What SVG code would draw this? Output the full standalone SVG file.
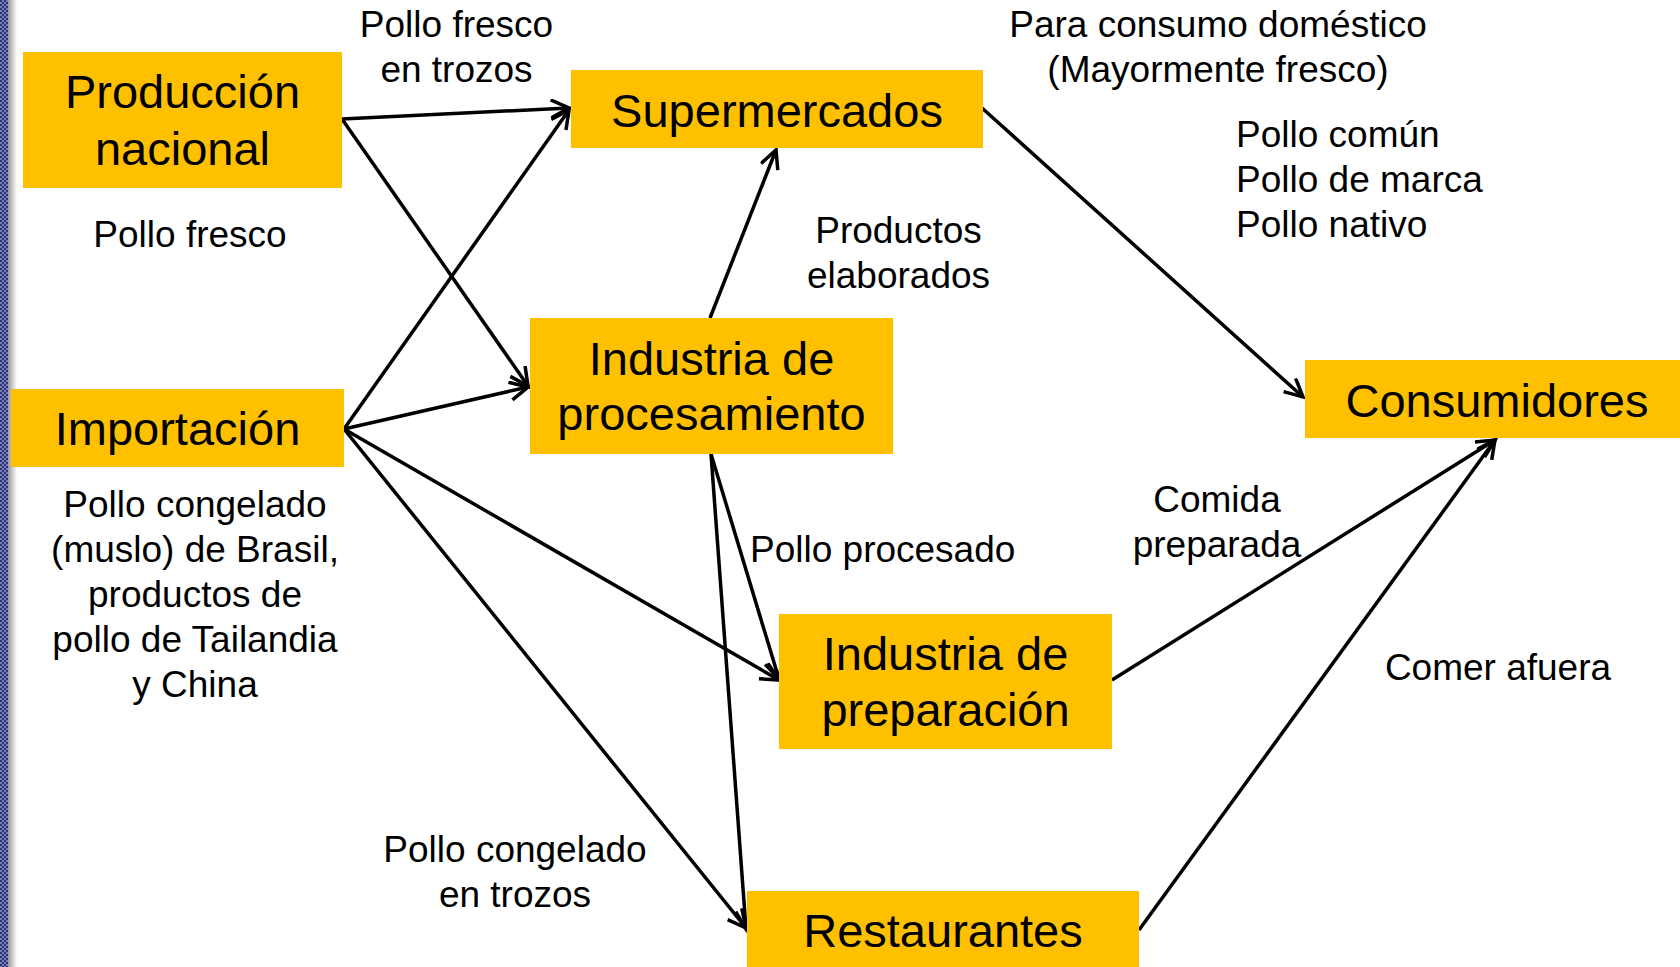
<svg xmlns="http://www.w3.org/2000/svg" width="1680" height="967" viewBox="0 0 1680 967">
  <style>
    .box { fill: #FFC000; }
    .nt { font-family: "Liberation Sans", Arial, sans-serif; font-size: 47px; fill: #000; text-anchor: middle; }
    .lb { font-family: "Liberation Sans", Arial, sans-serif; font-size: 37px; fill: #000; text-anchor: middle; }
    .lbl { font-family: "Liberation Sans", Arial, sans-serif; font-size: 37px; fill: #000; text-anchor: start; }
    .conn line { stroke: #000; stroke-width: 3.5; marker-end: url(#arr); }
  </style>
  <defs>
    <marker id="arr" markerUnits="userSpaceOnUse" markerWidth="26" markerHeight="24" refX="19" refY="10" orient="auto" viewBox="0 0 26 24">
      <path d="M1,1 L19,10 L1,19" fill="none" stroke="#000" stroke-width="3.5" stroke-linejoin="miter"/>
    </marker>
    <pattern id="dots" width="4" height="4" patternUnits="userSpaceOnUse">
      <rect width="4" height="4" fill="#7a7fb8"/>
      <rect width="2" height="2" fill="#2e3478"/>
      <rect x="2" y="2" width="2" height="2" fill="#2e3478"/>
    </pattern>
    <linearGradient id="shade" x1="0" x2="1" y1="0" y2="0">
      <stop offset="0" stop-color="#9a9a9a"/>
      <stop offset="1" stop-color="#ffffff"/>
    </linearGradient>
  </defs>
  <rect width="1680" height="967" fill="#fff"/>
  <rect x="0" y="0" width="8" height="967" fill="url(#dots)"/>
  <rect x="8" y="0" width="9" height="967" fill="url(#shade)"/>

  <g id="connectors" class="conn">
    <line x1="342" y1="119" x2="569" y2="108"/>
    <line x1="342" y1="119" x2="528" y2="386"/>
    <line x1="344" y1="429" x2="569" y2="110"/>
    <line x1="344" y1="429" x2="528" y2="387"/>
    <line x1="344" y1="429" x2="779" y2="680"/>
    <line x1="344" y1="429" x2="746" y2="928"/>
    <line x1="710" y1="318" x2="776" y2="150"/>
    <line x1="711" y1="454" x2="779" y2="679"/>
    <line x1="711" y1="454" x2="746" y2="929"/>
    <line x1="982" y1="108" x2="1303" y2="397"/>
    <line x1="1112" y1="680" x2="1495" y2="440"/>
    <line x1="1139" y1="930" x2="1495" y2="440"/>
  </g>

  <g id="produccion">
    <rect class="box" x="23" y="52" width="319" height="136"/>
    <text class="nt" x="182.5" y="108">Producción</text>
    <text class="nt" x="182.5" y="165">nacional</text>
  </g>
  <g id="importacion">
    <rect class="box" x="11" y="389" width="333" height="78"/>
    <text class="nt" x="177.5" y="445">Importación</text>
  </g>
  <g id="supermercados">
    <rect class="box" x="571" y="70" width="412" height="78"/>
    <text class="nt" x="777" y="127">Supermercados</text>
  </g>
  <g id="procesamiento">
    <rect class="box" x="530" y="318" width="363" height="136"/>
    <text class="nt" x="711.5" y="375">Industria de</text>
    <text class="nt" x="711.5" y="430">procesamiento</text>
  </g>
  <g id="consumidores">
    <rect class="box" x="1305" y="360" width="375" height="78"/>
    <text class="nt" x="1497" y="417">Consumidores</text>
  </g>
  <g id="preparacion">
    <rect class="box" x="779" y="614" width="333" height="135"/>
    <text class="nt" x="945.5" y="670">Industria de</text>
    <text class="nt" x="945.5" y="726">preparación</text>
  </g>
  <g id="restaurantes">
    <rect class="box" x="747" y="891" width="392" height="76"/>
    <text class="nt" x="943" y="947">Restaurantes</text>
  </g>

  <g id="labels">
    <text class="lb" x="456.5" y="37">Pollo fresco</text>
    <text class="lb" x="456.5" y="82">en trozos</text>
    <text class="lb" x="190" y="247">Pollo fresco</text>
    <text class="lb" x="1218" y="37">Para consumo doméstico</text>
    <text class="lb" x="1218" y="82">(Mayormente fresco)</text>
    <text class="lbl" x="1236" y="147">Pollo común</text>
    <text class="lbl" x="1236" y="192">Pollo de marca</text>
    <text class="lbl" x="1236" y="237">Pollo nativo</text>
    <text class="lb" x="898.5" y="243">Productos</text>
    <text class="lb" x="898.5" y="288">elaborados</text>
    <text class="lbl" x="750" y="562">Pollo procesado</text>
    <text class="lb" x="1217" y="512">Comida</text>
    <text class="lb" x="1217" y="557">preparada</text>
    <text class="lb" x="1498" y="680">Comer afuera</text>
    <text class="lb" x="195" y="517">Pollo congelado</text>
    <text class="lb" x="195" y="562">(muslo) de Brasil,</text>
    <text class="lb" x="195" y="607">productos de</text>
    <text class="lb" x="195" y="652">pollo de Tailandia</text>
    <text class="lb" x="195" y="697">y China</text>
    <text class="lb" x="515" y="862">Pollo congelado</text>
    <text class="lb" x="515" y="907">en trozos</text>
  </g>
</svg>
